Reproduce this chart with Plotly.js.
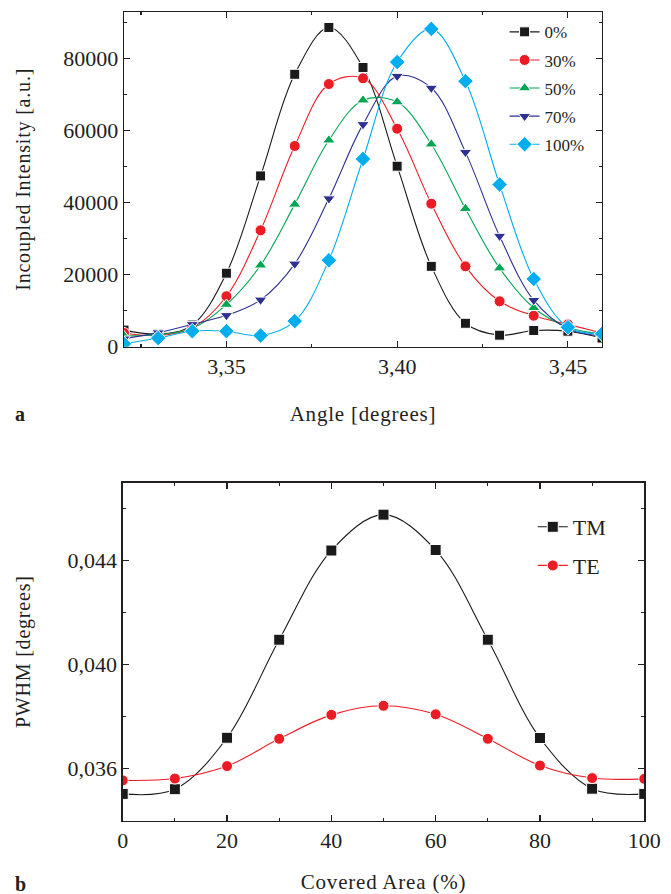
<!DOCTYPE html>
<html>
<head>
<meta charset="utf-8">
<script src="https://cdn.plot.ly/plotly-3.0.1.min.js"></script>
<style>html,body{margin:0;padding:0;background:#fff;}#chart{width:671px;height:894px;}
.xtitle,.x2title,.ytitle,.y2title{letter-spacing:0.8px;}
</style>
</head>
<body>
<div id="chart"></div>
<script>
// Panel a: incoupled intensity vs angle
const angles = [3.32,3.33,3.34,3.35,3.36,3.37,3.38,3.39,3.40,3.41,3.42,3.43,3.44,3.45,3.46];
const cov0   = [4600,3500,6000,20400,47400,75600,88600,77500,50100,22300,6500,3200,4500,4300,2400];
const cov30  = [3800,3100,5200,14000,32300,55700,72900,74500,60500,39700,22300,12600,8600,6200,3800];
const cov50  = [3000,3300,5100,11700,22600,39500,57300,68400,67900,56200,38300,21800,10800,5400,3500];
const cov70  = [2200,3900,6200,8700,13000,23000,41100,61700,75100,71800,54000,30700,12900,5000,3000];
const cov100 = [800,2400,4300,4300,3100,7100,24000,52100,79000,88200,73700,45000,18800,5400,3600];
const seriesNamesA = ['0%','30%','50%','70%','100%'];

// Panel b: PWHM vs covered area
const area = [0,10,20,30,40,50,60,70,80,90,100];
const pwhmTM = [0.03503,0.03521,0.03719,0.04096,0.04439,0.04577,0.04441,0.04096,0.03718,0.03523,0.03503];
const pwhmTE = [0.03555,0.03562,0.0361,0.03715,0.03807,0.03842,0.03809,0.03715,0.03612,0.03564,0.03561];
const seriesNamesB = ['TM','TE'];

const FONT = "'Liberation Serif', 'Times New Roman', serif";
const INK = '#231f20';
const colA = ['#1a1a1a','#ed1c24','#00a651','#2e3192','#00aeef'];
const symA = ['square','circle','triangle-up','triangle-down','diamond'];
const sizeA = [10,11,11,11,12];
const dataA = [cov0,cov30,cov50,cov70,cov100];

const traces = [];
dataA.forEach((ys,i)=>{
  traces.push({
    x: angles, y: ys, name: seriesNamesA[i], type:'scatter', mode:'lines+markers',
    xaxis:'x', yaxis:'y', legend:'legend', legendgroup:'a'+i,
    line:{color:colA[i], width:1.1, shape:'spline', smoothing:1},
    marker:{symbol:symA[i], size:sizeA[i], color:colA[i], line:{color:'#ffffff', width:1}}
  });
});
const colB = ['#1a1a1a','#ed1c24'];
const symB = ['square','circle'];
[pwhmTM,pwhmTE].forEach((ys,i)=>{
  traces.push({
    x: area, y: ys, name: seriesNamesB[i], type:'scatter', mode:'lines+markers',
    xaxis:'x2', yaxis:'y2', legend:'legend2', legendgroup:'b'+i,
    line:{color:colB[i], width:1.1, shape:'spline', smoothing:1},
    marker:{symbol:symB[i], size:11, color:colB[i], line:{color:'#ffffff', width:1}}
  });
});

const axisCommon = {
  showline:true, linecolor:INK, linewidth:1.3, mirror:'ticks', ticks:'inside', ticklen:6,
  tickcolor:INK, tickwidth:1.2, showgrid:false, zeroline:false,
  tickfont:{family:FONT, size:22, color:INK}
};

const layout = {
  width:671, height:894,
  margin:{l:0,r:0,t:0,b:0},
  paper_bgcolor:'#ffffff', plot_bgcolor:'#ffffff',
  separators:',.',
  font:{family:FONT, color:INK},
  xaxis: Object.assign({}, axisCommon, {
    domain:[0.1848,0.8972], anchor:'y', range:[3.32,3.46],
    tick0:3.35, dtick:0.05, tickformat:'.2f',
    minor:{dtick:0.025, ticks:'inside', ticklen:3, tickcolor:INK},
    title:{text:'Angle [degrees]', font:{family:FONT, size:21, color:INK}, standoff:28}
  }),
  yaxis: Object.assign({}, axisCommon, {
    domain:[0.6122,0.9866], anchor:'x', range:[0,92900],
    tick0:0, dtick:20000, tickformat:'d',
    minor:{dtick:10000, ticks:'inside', ticklen:3, tickcolor:INK},
    title:{text:'Incoupled Intensity [a.u.]', font:{family:FONT, size:20, color:INK}, standoff:27}
  }),
  xaxis2: Object.assign({}, axisCommon, {
    domain:[0.1829,0.9602], anchor:'y2', range:[0,100],
    tick0:0, dtick:20, tickformat:'d',
    minor:{dtick:10, ticks:'inside', ticklen:3, tickcolor:INK},
    title:{text:'Covered Area (%)', font:{family:FONT, size:21, color:INK}, standoff:33}
  }),
  yaxis2: Object.assign({}, axisCommon, {
    domain:[0.0820,0.4601], anchor:'x2', range:[0.034,0.047],
    tick0:0.036, dtick:0.004, tickformat:'.3f',
    minor:{dtick:0.002, ticks:'inside', ticklen:3, tickcolor:INK},
    title:{text:'PWHM [degrees]', font:{family:FONT, size:20, color:INK}, standoff:31}
  }),
  legend:{
    x:0.752, y:0.984, xanchor:'left', yanchor:'top', bgcolor:'rgba(0,0,0,0)',
    font:{family:FONT, size:17, color:INK}, traceorder:'grouped', tracegroupgap:3,
    itemwidth:30
  },
  legend2:{
    x:0.794, y:0.434, xanchor:'left', yanchor:'top', bgcolor:'rgba(0,0,0,0)',
    font:{family:FONT, size:22, color:INK}, traceorder:'grouped', tracegroupgap:7,
    itemwidth:30
  },
  annotations:[
    {text:'<b>a</b>', xref:'paper', yref:'paper', x:20/671, y:1-414/894, xanchor:'center', yanchor:'middle', showarrow:false, font:{family:FONT, size:20, color:INK}},
    {text:'<b>b</b>', xref:'paper', yref:'paper', x:20/671, y:1-884/894, xanchor:'center', yanchor:'middle', showarrow:false, font:{family:FONT, size:20, color:INK}}
  ]
};

Plotly.newPlot('chart', traces, layout, {staticPlot:true, displayModeBar:false});
</script>
</body>
</html>
